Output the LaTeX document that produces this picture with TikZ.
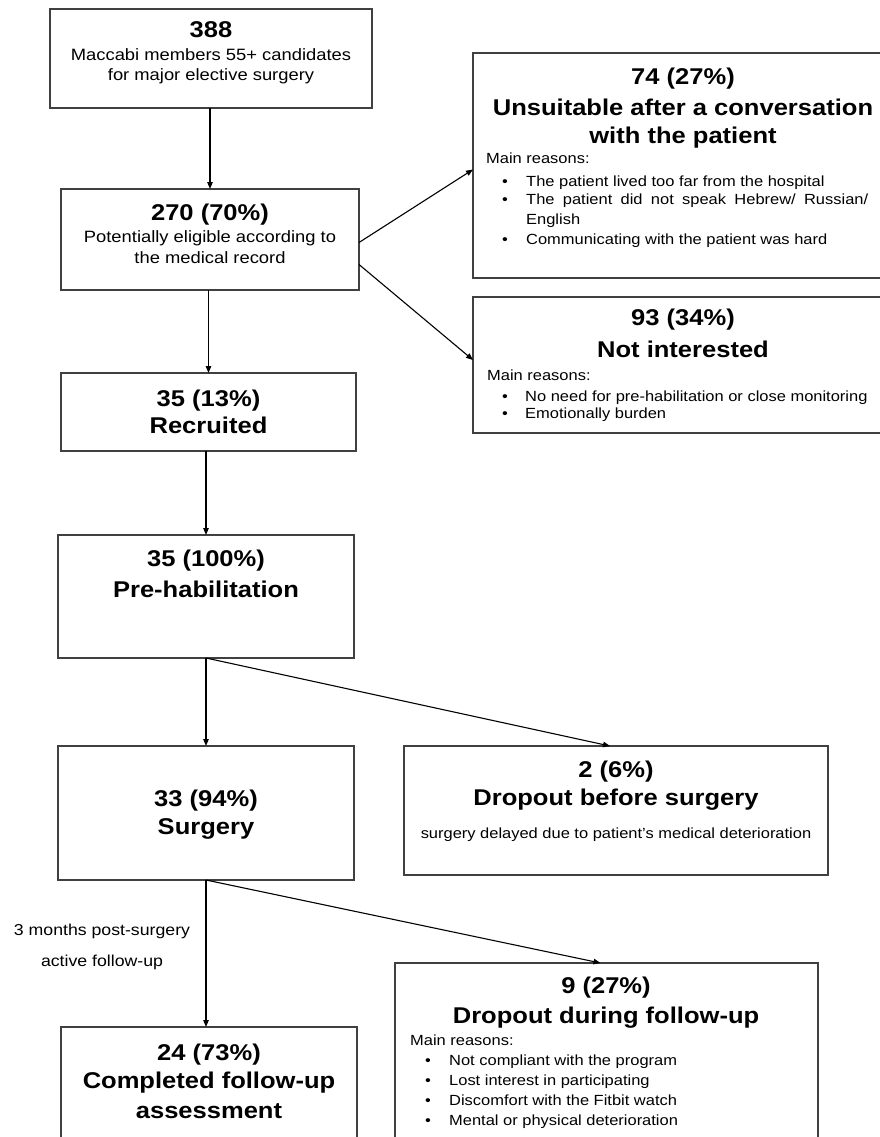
\documentclass[tikz,border=0pt]{standalone}
\usepackage{fontspec}
\setmainfont{Liberation Sans}[FakeStretch=1.12]
\usetikzlibrary{arrows.meta}
\tikzset{
	box/.style={draw=black!75, line width=1.3pt, fill=white, inner sep=0pt, outer sep=0pt, anchor=north west},
	head/.style={font=\fontsize{22.8}{27}\selectfont\bfseries, anchor=base, inner sep=0pt},
	body/.style={font=\fontsize{16.4}{21}\selectfont, anchor=base, inner sep=0pt},
	small/.style={font=\fontsize{14.7}{19}\selectfont, anchor=base west, inner sep=0pt},
	flow/.style={->, line width=1.1pt, black},
}
\begin{document}
\begin{tikzpicture}[x=1pt, y=-1pt, >={Triangle[length=7pt,width=5.5pt]}]
	\useasboundingbox (0,0) rectangle (880,1137);
	\clip (0,0) rectangle (880,1137);
	% main column
	\node[box, minimum width=322, minimum height=99] (cand) at (50,9) {};
	\node[box, minimum width=298, minimum height=101] (elig) at (61,189) {};
	\node[box, minimum width=295, minimum height=78] (recr) at (61,373) {};
	\node[box, minimum width=296, minimum height=123] (preh) at (58,535) {};
	\node[box, minimum width=296, minimum height=134] (surg) at (58,746) {};
	\node[box, minimum width=296, minimum height=130] (compl) at (61,1027) {};
	% exclusions
	\node[box, minimum width=420, minimum height=225] (unsuit) at (473,53) {};
	\node[box, minimum width=420, minimum height=136] (notint) at (473,297) {};
	\node[box, minimum width=424, minimum height=129] (drop1) at (404,746) {};
	\node[box, minimum width=423, minimum height=190] (drop2) at (395,963) {};

	% texts, main column
	\node[head] (t388) at (211,38) {388};
	\node[body] (tcand1) at (211,61) {Maccabi members 55+ candidates};
	\node[body] (tcand2) at (211,81) {for major elective surgery};
	\node[head] (t270) at (210,220) {270 (70\%)};
	\node[body] (telig1) at (210,242) {Potentially eligible according to};
	\node[body] (telig2) at (210,263) {the medical record};
	\node[head] (t35a) at (208.5,406) {35 (13\%)};
	\node[head] (trecr) at (208.5,433) {Recruited};
	\node[head] (t35b) at (206,566) {35 (100\%)};
	\node[head] (tpreh) at (206,597) {Pre-habilitation};
	\node[head] (t33) at (206,806) {33 (94\%)};
	\node[head] (tsurg) at (206,834) {Surgery};
	\node[head] (t24) at (209,1060) {24 (73\%)};
	\node[head] (tcompl1) at (209,1088) {Completed follow-up};
	\node[head] (tcompl2) at (209,1118) {assessment};
	\node[body, font=\fontsize{15.8}{20}\selectfont] (tmon1) at (102,935) {3 months post-surgery};
	\node[body, font=\fontsize{15.8}{20}\selectfont] (tmon2) at (102,966) {active follow-up};

	% texts, exclusions
	\node[head] (t74) at (683,85) {74 (27\%)};
	\node[head] (tuns1) at (683,116) {Unsuitable after a conversation};
	\node[head] (tuns2) at (683,143) {with the patient};
	\node[small] (whyA) at (486,163) {Main reasons:};
	\foreach \y/\t [count=\i] in {186/{The patient lived too far from the hospital},
		204/{\makebox[342pt][s]{The patient did not speak Hebrew/ Russian/}},
		244/{Communicating with the patient was hard}} {
		\node[small, anchor=base] (dotA\i) at (505,\y) {\textbullet};
		\node[small] (resA\i) at (526,\y) {\t};
	}
	\node[small] (resA4) at (526,224) {English};

	\node[head] (t93) at (683,325) {93 (34\%)};
	\node[head] (tnot) at (683,357) {Not interested};
	\node[small] (whyB) at (487,380) {Main reasons:};
	\foreach \y/\t [count=\i] in {401/{No need for pre-habilitation or close monitoring},
		418/{Emotionally burden}} {
		\node[small, anchor=base] (dotB\i) at (505,\y) {\textbullet};
		\node[small] (resB\i) at (525,\y) {\t};
	}

	\node[head] (t2) at (616,777) {2 (6\%)};
	\node[head] (tdrop1) at (616,805) {Dropout before surgery};
	\node[small, anchor=base] (tdelay) at (616,838) {surgery delayed due to patient's medical deterioration};

	\node[head] (t9) at (606,993) {9 (27\%)};
	\node[head] (tdrop2) at (606,1023) {Dropout during follow-up};
	\node[small] (whyC) at (410,1045) {Main reasons:};
	\foreach \y/\t [count=\i] in {1065/{Not compliant with the program},
		1085/{Lost interest in participating},
		1105/{Discomfort with the Fitbit watch},
		1125/{Mental or physical deterioration}} {
		\node[small, anchor=base] (dotC\i) at (428,\y) {\textbullet};
		\node[small] (resC\i) at (449,\y) {\t};
	}

	% arrows
	\draw[flow] (elig.north |- cand.south) -- (elig.north);
	\draw[flow] ([yshift=-3pt]elig.east) -- ([yshift=-4pt]unsuit.west);
	\draw[flow] ([yshift=-25pt]elig.east) -- ([yshift=5pt]notint.west);
	\draw[flow] (recr.north |- elig.south) -- (recr.north);
	\draw[flow] (preh.north |- recr.south) -- (preh.north);
	\draw[flow] (preh.south) -- (surg.north);
	\draw[flow] (preh.south) -- ([xshift=-6pt]drop1.north);
	\draw[flow] (surg.south) -- (surg.south |- compl.north);
	\draw[flow] (surg.south) -- ([xshift=-6pt]drop2.north);
\end{tikzpicture}
\end{document}
